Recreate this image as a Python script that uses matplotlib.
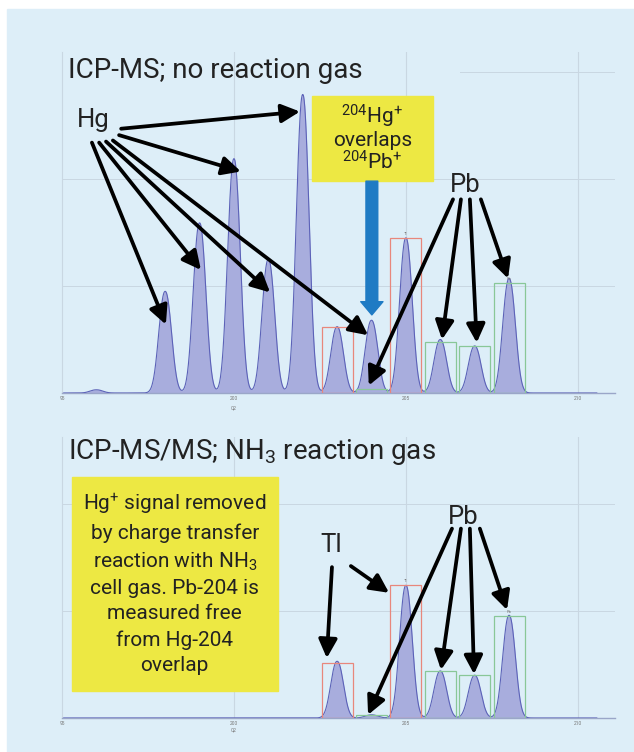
import numpy as np
import matplotlib
matplotlib.use('Agg')
import matplotlib.pyplot as plt
from matplotlib.patches import Rectangle

plt.rcParams['font.family'] = ['Roboto', 'DejaVu Sans']
plt.rcParams['mathtext.fontset'] = 'custom'
plt.rcParams['mathtext.rm'] = 'Roboto'
plt.rcParams['mathtext.it'] = 'Roboto'
plt.rcParams['mathtext.bf'] = 'Roboto'

##############################
# data
masses_top = [196, 198, 199, 200, 201, 202, 203, 204, 205, 206, 207, 208]
height_top = [0.03, 0.95, 1.59, 2.19, 1.25, 2.79, 0.62, 0.68, 1.45, 0.50, 0.44, 1.07]

masses_bot = [203, 204, 205, 206, 207, 208]
height_bot = [0.53, 0.03, 1.24, 0.44, 0.40, 0.96]

box_masses = [203, 204, 205, 206, 207, 208]
box_kind = ['Tl', 'Pb', 'Tl', 'Pb', 'Pb', 'Pb']
box_top = [0.62, 0.04, 1.45, 0.48, 0.44, 1.03]
box_bot = [0.51, 0.03, 1.24, 0.44, 0.40, 0.95]

tick_pos = [195, 200, 205, 210]
tick_lab = ['95', '200', '205', '210']
##############################

W, H = 634, 752
BG = '#ddeef8'
GRID = '#c9d7e2'
FILL = '#a8addd'
EDGE = '#5c62b8'
YEL = '#ede843'
BOX_COL = {'Tl': '#e8877c', 'Pb': '#89c798'}


def fx(px):
    return px / W


def fy(py):
    return 1 - py / H


def spectrum(masses, heights, x):
    y = np.zeros_like(x)
    for m, h in zip(masses, heights):
        y += h * np.exp(-(np.abs(x - m) / 0.25) ** 2.2)
    return y


def draw_panel(ax, masses, heights, boxes, ytop, top_grid_from=0.0):
    ax.set_facecolor('none')
    ax.set_xlim(195, 211.08)
    ax.set_ylim(0, ytop)
    for g in [200, 205, 210]:
        ax.axvline(g, color=GRID, lw=0.8, zorder=0)
    ax.axhline(1, color=GRID, lw=0.7, zorder=0)
    ax.axhline(2, color=GRID, lw=0.7, zorder=0)
    if ytop > 3:
        ax.axhline(3, xmin=top_grid_from, color=GRID, lw=0.7, zorder=0)
    x = np.linspace(195.05, 210.55, 3000)
    y = spectrum(masses, heights, x)
    ax.fill_between(x, 0, y, color=FILL, lw=0, zorder=2)
    ax.plot(x, y, color=EDGE, lw=0.8, zorder=3)
    for m, kind, h in zip(box_masses, box_kind, boxes):
        ax.add_patch(Rectangle((m - 0.45, 0), 0.9, h, fill=False,
                               ec=BOX_COL[kind], lw=0.9, zorder=4))
    for m, kind, h in zip(box_masses, box_kind, boxes):
        if m in (205, 208):
            ax.text(m, h + 0.02, kind, fontsize=3, color='#777777',
                    ha='center', va='bottom', zorder=5)
    for s in ['top', 'right']:
        ax.spines[s].set_visible(False)
    ax.spines['left'].set_color(GRID)
    ax.spines['left'].set_linewidth(0.8)
    ax.spines['bottom'].set_color('#9aa6c8')
    ax.spines['bottom'].set_linewidth(1.0)
    ax.set_xticks(tick_pos)
    ax.set_xticklabels(tick_lab)
    ax.set_yticks([])
    ax.tick_params(axis='x', length=0, labelsize=3.5, labelcolor='#777777', pad=2)
    ax.set_xlabel('Q2', fontsize=3.5, color='#777777', labelpad=3)
    ax.xaxis.set_label_coords((200 - 195) / (211.08 - 195), -0.035)


def arrow(ax, tail, head):
    ax.annotate('', xy=head, xytext=tail, xycoords='data',
                arrowprops=dict(arrowstyle='-|>,head_length=0.8,head_width=0.4',
                                color='black', lw=2.7, mutation_scale=14,
                                shrinkA=0, shrinkB=0), zorder=10,
                annotation_clip=False)


fig = plt.figure(figsize=(W / 100, H / 100), dpi=100, facecolor='white')
fig.patches.append(Rectangle((fx(7), 0), 1, fy(9), transform=fig.transFigure,
                             color=BG, zorder=-5))

# top panel: no reaction gas
ax1 = fig.add_axes([fx(62), fy(393), fx(615 - 62), (393 - 52) / H])
draw_panel(ax1, masses_top, height_top, box_top, 341 / 107, top_grid_from=0.72)

fig.text(fx(68), fy(70), 'ICP-MS; no reaction gas', fontsize=20,
         color='#222222', va='center', ha='left')
ax1.text(195.9, 2.55, 'Hg', fontsize=18.5, color='#222222', ha='center', va='center')
ax1.text(206.72, 1.94, 'Pb', fontsize=18.5, color='#222222', ha='center', va='center')

hg_arrows = [((196.72, 2.47), (201.92, 2.63)),
             ((196.66, 2.41), (200.20, 2.07)),
             ((195.87, 2.34), (198.02, 0.64)),
             ((196.08, 2.34), (199.04, 1.15)),
             ((196.28, 2.35), (201.05, 0.94)),
             ((196.48, 2.36), (203.90, 0.54))]
for t, h in hg_arrows:
    arrow(ax1, t, h)

pb_arrows_top = [((206.37, 1.81), (203.92, 0.07)),
                 ((206.60, 1.81), (206.05, 0.50)),
                 ((206.86, 1.81), (207.06, 0.47)),
                 ((207.18, 1.81), (207.97, 1.07))]
for t, h in pb_arrows_top:
    arrow(ax1, t, h)

ax1.add_patch(Rectangle((202.27, 1.98), 3.51, 0.80, color=YEL, zorder=6, clip_on=False))
ax1.text(204.02, 2.38, '$^{204}$Hg$^{+}$\noverlaps\n$^{204}$Pb$^{+}$', fontsize=15,
         color='#222222', ha='center', va='center', linespacing=1.05, zorder=7)
ax1.annotate('', xy=(204.01, 0.73), xytext=(204.01, 1.98),
             arrowprops=dict(arrowstyle='simple,head_length=0.95,head_width=1.6,tail_width=0.85',
                             mutation_scale=10, color='#1f7bc4', shrinkA=0, shrinkB=0),
             zorder=8)

# bottom panel: NH3 reaction gas
ax2 = fig.add_axes([fx(62), fy(718), fx(615 - 62), (718 - 437) / H])
draw_panel(ax2, masses_bot, height_bot, box_bot, 281 / 107)

fig.text(fx(68), fy(452), 'ICP-MS/MS; NH$_3$ reaction gas', fontsize=20,
         color='#222222', va='center', ha='left')
ax2.text(202.82, 1.62, 'Tl', fontsize=18.5, color='#222222', ha='center', va='center')
ax2.text(206.66, 1.88, 'Pb', fontsize=18.5, color='#222222', ha='center', va='center')

arrow(ax2, (202.85, 1.41), (202.70, 0.56))
arrow(ax2, (203.40, 1.42), (204.51, 1.17))
pb_arrows_bot = [((206.34, 1.77), (203.90, 0.03)),
                 ((206.60, 1.77), (206.02, 0.45)),
                 ((206.86, 1.77), (206.98, 0.41)),
                 ((207.15, 1.77), (207.94, 1.01))]
for t, h in pb_arrows_bot:
    arrow(ax2, t, h)

ax2.add_patch(Rectangle((195.29, 0.25), 5.99, 2.00, color=YEL, zorder=6, clip_on=False))
ax2.text(198.28, 1.26,
         'Hg$^{+}$ signal removed\nby charge transfer\nreaction with NH$_3$\n'
         'cell gas. Pb-204 is\nmeasured free\nfrom Hg-204\noverlap',
         fontsize=15, color='#222222', ha='center', va='center',
         linespacing=1.42, zorder=7)

fig.savefig('out.png', dpi=100, facecolor='white')
